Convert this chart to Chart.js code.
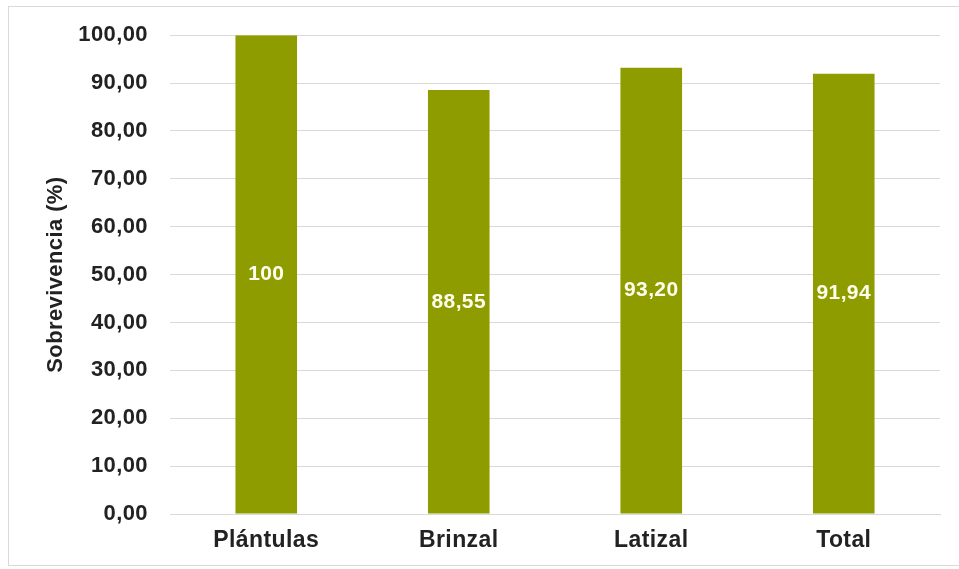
<!DOCTYPE html>
<html>
<head>
<meta charset="utf-8">
<script src="https://cdn.jsdelivr.net/npm/chart.js@4/dist/chart.umd.min.js"></script>
<style>
  html, body { margin: 0; padding: 0; background: #ffffff; }
  #wrap { position: relative; width: 959px; height: 569px; }
</style>
</head>
<body>
<div id="wrap"><canvas id="c" width="959" height="569"></canvas></div>
<script>
// ---- data ----
const categories = ["Plántulas", "Brinzal", "Latizal", "Total"];
const survival = [100, 88.55, 93.20, 91.94];
const yTicks = [0, 10, 20, 30, 40, 50, 60, 70, 80, 90, 100];
const yTitle = "Sobrevivencia (%)";

const fmtTick = v => v.toFixed(2).replace('.', ',');
const fmtLabel = v => Number.isInteger(v) ? String(v) : v.toFixed(2).replace('.', ',');

const frame = {
  id: 'frame',
  beforeDraw(chart) {
    const ctx = chart.ctx;
    ctx.fillStyle = '#ffffff';
    ctx.fillRect(0, 0, chart.width, chart.height);
    ctx.strokeStyle = '#d9d9d9';
    ctx.lineWidth = 1;
    ctx.strokeRect(8.5, 6.5, 960, 559);
    if ('letterSpacing' in ctx) ctx.letterSpacing = '0.4px';
  }
};

const valueLabels = {
  id: 'valueLabels',
  afterDatasetsDraw(chart) {
    const ctx = chart.ctx;
    const meta = chart.getDatasetMeta(0);
    ctx.save();
    ctx.font = 'bold 21px "Liberation Sans", Arial, sans-serif';
    ctx.fillStyle = '#fffff0';
    ctx.textAlign = 'center';
    ctx.textBaseline = 'middle';
    meta.data.forEach((bar, i) => {
      const v = chart.data.datasets[0].data[i];
      const y = (bar.y + bar.base) / 2;
      ctx.fillText(fmtLabel(v), bar.x, y);
    });
    ctx.restore();
  }
};

new Chart(document.getElementById('c'), {
  type: 'bar',
  data: {
    labels: categories,
    datasets: [{
      data: survival,
      backgroundColor: '#8f9c00',
      borderWidth: 0,
      barPercentage: 0.32,
      categoryPercentage: 1.0
    }]
  },
  options: {
    responsive: false,
    animation: false,
    devicePixelRatio: 1,
    layout: { padding: { left: 0, right: 19, top: 34, bottom: 0 } },
    plugins: {
      legend: { display: false },
      tooltip: { enabled: false }
    },
    scales: {
      x: {
        grid: { display: false, drawTicks: false },
        border: { display: true, color: '#d9d9d9', width: 1 },
        ticks: {
          color: '#222222',
          padding: 13,
          font: { family: '"Liberation Sans", Arial, sans-serif', size: 23, weight: 'bold' }
        },
        afterFit(scale) { scale.height = 55; }
      },
      y: {
        min: 0,
        max: 100,
        afterBuildTicks(scale) { scale.ticks = yTicks.map(v => ({ value: v })); },
        grid: { color: '#d9d9d9', lineWidth: 1, drawTicks: false },
        border: { display: false },
        ticks: {
          color: '#222222',
          padding: 22,
          font: { family: '"Liberation Sans", Arial, sans-serif', size: 22, weight: 'bold' },
          callback: v => fmtTick(v)
        },
        title: {
          display: true,
          text: yTitle,
          color: '#222222',
          font: { family: '"Liberation Sans", Arial, sans-serif', size: 22, weight: 'bold' },
          padding: { top: 43, bottom: 0 }
        },
        afterFit(scale) { scale.width = 170; }
      }
    }
  },
  plugins: [frame, valueLabels]
});
</script>
</body>
</html>
